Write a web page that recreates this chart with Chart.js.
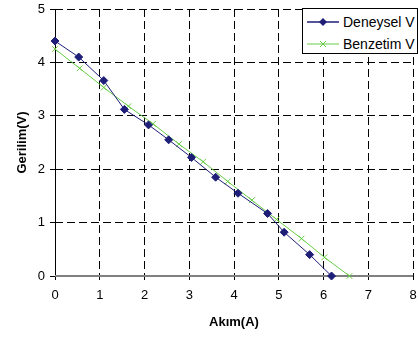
<!DOCTYPE html>
<html>
<head>
<meta charset="utf-8">
<script src="https://cdn.jsdelivr.net/npm/chart.js@4"></script>
<style>
  body { margin: 0; background: #fff; }
  #wrap { position: relative; width: 418px; height: 338px; }
  #legend {
    position: absolute; left: 302px; top: 8px; width: 114px; height: 44px;
    border: 1px solid #000; background: #fff;
    font-family: 'Liberation Sans', Arial, sans-serif; font-size: 14px; color: #000;
  }
  .row { position: absolute; left: 4px; height: 16px; display: flex; align-items: center; }
  .row svg { margin-right: 4px; }
</style>
</head>
<body>
<div id="wrap">
  <canvas id="chart" width="418" height="338"></canvas>
  <div id="legend">
    <div class="row" style="top:5px">
      <svg width="32" height="10"><line x1="0" y1="5" x2="32" y2="5" stroke="#1e1e78" stroke-width="1.5"/><polygon points="16,1 20,5 16,9 12,5" fill="#1e1e78"/></svg>
      <span>Deneysel V</span>
    </div>
    <div class="row" style="top:27px">
      <svg width="32" height="10"><line x1="0" y1="5" x2="32" y2="5" stroke="#66cc44" stroke-width="1"/><path d="M13,2 L19,8 M19,2 L13,8" stroke="#66cc44" stroke-width="1"/></svg>
      <span>Benzetim V</span>
    </div>
  </div>
</div>
<script>
const akimDeneysel = [0, 0.53, 1.09, 1.55, 2.09, 2.54, 3.05, 3.59, 4.09, 4.75, 5.12, 5.69, 6.18];
const gerilimDeneysel = [4.40, 4.10, 3.66, 3.12, 2.83, 2.55, 2.22, 1.85, 1.55, 1.17, 0.82, 0.40, 0];
const akimBenzetim = [0, 0.55, 1.09, 1.64, 2.19, 2.77, 3.31, 3.86, 4.40, 4.95, 5.51, 6.02, 6.58];
const gerilimBenzetim = [4.25, 3.89, 3.53, 3.18, 2.85, 2.47, 2.14, 1.77, 1.42, 1.06, 0.70, 0.35, 0];

const toPoints = (xs, ys) => xs.map((x, i) => ({ x: x, y: ys[i] }));

Chart.defaults.font.family = "'Liberation Sans', Arial, sans-serif";
Chart.defaults.color = '#000';

// solid axis lines over the dashed grid, under the data
const axisLines = {
    id: 'axisLines',
    beforeDatasetsDraw(chart) {
        const ctx = chart.ctx;
        const a = chart.chartArea;
        ctx.save();
        ctx.setLineDash([]);
        ctx.strokeStyle = '#000';
        ctx.lineWidth = 1;
        ctx.beginPath();
        ctx.moveTo(a.left + 0.5, a.top);
        ctx.lineTo(a.left + 0.5, a.bottom);
        ctx.stroke();
        ctx.strokeStyle = '#808080';
        ctx.lineWidth = 2;
        ctx.beginPath();
        ctx.moveTo(a.left, a.bottom);
        ctx.lineTo(a.right, a.bottom);
        ctx.stroke();
        ctx.restore();
    }
};

new Chart(document.getElementById('chart'), {
    type: 'scatter',
    data: {
        datasets: [
            {
                label: 'Deneysel V',
                data: toPoints(akimDeneysel, gerilimDeneysel),
                showLine: true,
                borderColor: '#1e1e78',
                backgroundColor: '#1e1e78',
                borderWidth: 1,
                pointStyle: 'rectRot',
                pointRadius: 4,
                pointBorderWidth: 1,
                clip: false
            },
            {
                label: 'Benzetim V',
                data: toPoints(akimBenzetim, gerilimBenzetim),
                showLine: true,
                borderColor: '#66cc44',
                backgroundColor: '#66cc44',
                borderWidth: 1,
                pointStyle: 'crossRot',
                pointRadius: 4,
                pointBorderWidth: 1,
                clip: false
            }
        ]
    },
    options: {
        responsive: false,
        animation: false,
        layout: { padding: { left: 0, top: 9, right: 1, bottom: 0 } },
        plugins: { legend: { display: false }, tooltip: { enabled: false } },
        scales: {
            x: {
                type: 'linear',
                min: 0,
                max: 8,
                ticks: { stepSize: 1, padding: 8, font: { size: 13 } },
                grid: { color: '#000', tickLength: 4, tickColor: '#000' },
                border: { display: false, dash: [8, 4] },
                title: { display: true, text: 'Akım(A)', font: { size: 13, weight: 'bold' }, padding: { bottom: 8 } },
                afterFit: function(scale) {
                    scale.height = 62;
                    scale.paddingLeft = 0;
                    scale.paddingRight = 0;
                }
            },
            y: {
                min: 0,
                max: 5,
                ticks: { stepSize: 1, padding: 5, font: { size: 13 } },
                grid: { color: '#000', tickLength: 5, tickColor: '#000' },
                border: { display: false, dash: [8, 4] },
                title: { display: true, text: 'Gerilim(V)', font: { size: 13, weight: 'bold' }, padding: { top: 15 } },
                afterFit: function(scale) {
                    scale.width = 55;
                    scale.paddingTop = 0;
                    scale.paddingBottom = 0;
                }
            }
        }
    },
    plugins: [axisLines]
});
</script>
</body>
</html>
